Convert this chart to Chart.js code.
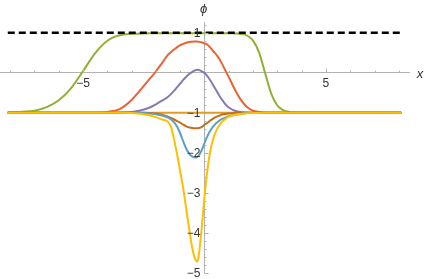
<!DOCTYPE html>
<html>
<head>
<meta charset="utf-8">
<script src="https://cdn.jsdelivr.net/npm/chart.js@4.4.1/dist/chart.umd.min.js"></script>
<style>
  html, body { margin: 0; padding: 0; background: #fff; }
  #chart { display: block; }
</style>
</head>
<body>
<canvas id="chart" width="425" height="279"></canvas>
<script>
// ── data ──
const xs = [-8.1, -7.5, -7, -6.5, -6, -5.5, -5, -4.5, -4, -3.5, -3, -2.75, -2.5, -2.25, -2, -1.75, -1.5, -1.375, -1.25, -1.125,
            -1, -0.875, -0.75, -0.625, -0.5, -0.375, -0.3, -0.25, -0.125, 0, 0.125, 0.25, 0.375, 0.5, 0.625, 0.75, 0.875, 1,
            1.25, 1.5, 1.75, 2, 2.25, 2.5, 2.75, 3, 3.25, 3.5, 4, 5, 6, 7, 8.1];

const green  = [-0.99, -0.975, -0.95, -0.86, -0.69, -0.39, 0.04, 0.49, 0.80, 0.935, 0.97, 0.975, 0.98, 0.985, 0.985, 0.985, 0.985, 0.985, 0.985, 0.985,
                0.985, 0.985, 0.985, 0.985, 0.985, 0.985, 0.985, 0.985, 0.985, 0.985, 0.985, 0.985, 0.985, 0.985, 0.985, 0.985, 0.985, 0.985,
                0.98, 0.97, 0.93, 0.80, 0.50, -0.02, -0.53, -0.82, -0.94, -0.98, -0.998, -1, -1, -1, -1];
const red    = [-1, -1, -1, -1, -1, -1, -1, -1, -0.98, -0.91, -0.68, -0.51, -0.33, -0.15, 0.03, 0.24, 0.45, 0.52, 0.58, 0.64,
                0.69, 0.72, 0.75, 0.77, 0.775, 0.782, 0.781, 0.775, 0.76, 0.73, 0.70, 0.62, 0.53, 0.44, 0.33, 0.19, 0.04, -0.11,
                -0.42, -0.68, -0.86, -0.95, -0.98, -0.995, -1, -1, -1, -1, -1, -1, -1, -1, -1];
const purple = [-1, -1, -1, -1, -1, -1, -1, -1, -1, -0.995, -0.98, -0.96, -0.92, -0.87, -0.79, -0.70, -0.60, -0.53, -0.45, -0.36,
                -0.27, -0.18, -0.10, -0.03, 0.02, 0.065, 0.075, 0.07, 0.04, -0.01, -0.09, -0.20, -0.33, -0.46, -0.59, -0.70, -0.80, -0.87,
                -0.95, -0.985, -0.995, -1, -1, -1, -1, -1, -1, -1, -1, -1, -1, -1, -1];
const brown  = [-1, -1, -1, -1, -1, -1, -1, -1, -1, -1, -1, -1, -1, -1.01, -1.02, -1.05, -1.10, -1.13, -1.17, -1.21,
                -1.25, -1.30, -1.34, -1.37, -1.385, -1.39, -1.39, -1.385, -1.36, -1.30, -1.25, -1.19, -1.14, -1.10, -1.07, -1.04, -1.03, -1.02,
                -1.01, -1, -1, -1, -1, -1, -1, -1, -1, -1, -1, -1, -1, -1, -1];
const blue   = [-1, -1, -1, -1, -1, -1, -1, -1, -1, -1, -1, -1.005, -1.01, -1.02, -1.04, -1.07, -1.12, -1.17, -1.24, -1.35,
                -1.52, -1.72, -1.90, -2.03, -2.10, -2.12, -2.11, -2.08, -1.95, -1.76, -1.58, -1.44, -1.33, -1.25, -1.19, -1.15, -1.12, -1.09,
                -1.05, -1.03, -1.01, -1.005, -1, -1, -1, -1, -1, -1, -1, -1, -1, -1, -1];
const yellow = [-1, -1, -1, -1, -1, -1, -1, -1, -1, -1, -1.01, -1.02, -1.04, -1.07, -1.11, -1.17, -1.23, -1.36, -1.68, -2.05,
                -2.47, -2.90, -3.42, -3.92, -4.40, -4.67, -4.72, -4.62, -3.95, -3.10, -2.40, -1.92, -1.62, -1.43, -1.30, -1.21, -1.15, -1.10,
                -1.05, -1.03, -1.015, -1.01, -1.005, -1, -1, -1, -1, -1, -1, -1, -1, -1, -1];
const orange = xs.map(() => -1);
const dashedX = [-8.1, 8.1];
const dashedY = [1, 1];

const xTickLabels = [-5, 5];
const yTickLabels = [1, -1, -2, -3, -4, -5];

const AXIS = '#b3b3b3';
const LABEL = '#333';
const FONT = '"Liberation Sans", Arial, sans-serif';

const fmt = v => (v < 0 ? '\u2212' + Math.abs(v) : String(v));
const pts = ys => xs.map((x, i) => ({ x, y: ys[i] }));

function curve(data, color, order) {
    return { data: pts(data), borderColor: color, borderWidth: 2, pointRadius: 0,
             cubicInterpolationMode: 'monotone', fill: false, order };
}

// ── ticks, labels and axis names on top, Mathematica style ──
const axisDecor = {
    id: 'axisDecor',
    afterDatasetsDraw(chart) {
        const { ctx } = chart;
        const sx = chart.scales.x, sy = chart.scales.y;
        const x0 = sx.getPixelForValue(0), y0 = sy.getPixelForValue(0);
        ctx.save();
        ctx.strokeStyle = AXIS;
        ctx.lineWidth = 1;
        ctx.beginPath();
        for (let v = -8; v <= 8; v++) {
            if (v === 0) continue;
            const len = v % 5 === 0 ? 4 : 2;
            const px = Math.round(sx.getPixelForValue(v)) + 0.5;
            ctx.moveTo(px, y0);
            ctx.lineTo(px, y0 - len);
        }
        for (let k = -25; k <= 6; k++) {
            if (k === 0) continue;
            const len = k % 5 === 0 ? 4 : 2;
            const py = Math.round(sy.getPixelForValue(k / 5)) + 0.5;
            ctx.moveTo(x0, py);
            ctx.lineTo(x0 + len, py);
        }
        ctx.stroke();

        ctx.fillStyle = LABEL;
        ctx.font = '12px ' + FONT;
        ctx.textBaseline = 'middle';
        ctx.textAlign = 'right';
        yTickLabels.forEach(v => ctx.fillText(fmt(v), x0 - 4, sy.getPixelForValue(v) + 1));
        ctx.textAlign = 'center';
        xTickLabels.forEach(v => ctx.fillText(fmt(v), sx.getPixelForValue(v), y0 + 11));

        ctx.font = 'italic 13px ' + FONT;
        ctx.fillText('\u03d5', x0 - 1, 9);
        ctx.fillText('x', sx.right + 11, y0 + 2);
        ctx.restore();
    }
};

new Chart(document.getElementById('chart'), {
    type: 'line',
    data: {
        datasets: [
            { data: dashedX.map((x, i) => ({ x, y: dashedY[i] })), borderColor: '#000', borderWidth: 2.5,
              borderDash: [7, 4], pointRadius: 0, fill: false, order: 0 },
            curve(yellow, '#FFBF00', 1),
            curve(blue,   '#5D9EC7', 2),
            curve(brown,  '#C56E1A', 3),
            curve(purple, '#8778B3', 4),
            curve(red,    '#EB6235', 5),
            curve(green,  '#8FB032', 6),
            curve(orange, '#E19C24', 7)
        ]
    },
    options: {
        responsive: false,
        animation: false,
        devicePixelRatio: 1,
        layout: { padding: { top: 22.7, bottom: 6.3, left: 0, right: 16 } },
        plugins: { legend: { display: false }, tooltip: { enabled: false } },
        scales: {
            x: {
                type: 'linear', min: -8.42, max: 8.42, position: { y: 0 },
                grid: { display: false, drawTicks: false },
                border: { color: AXIS, width: 1 },
                ticks: { display: false }
            },
            y: {
                type: 'linear', min: -5, max: 1.25, position: { x: 0 },
                grid: { display: false, drawTicks: false },
                border: { color: AXIS, width: 1 },
                ticks: { display: false }
            }
        }
    },
    plugins: [axisDecor]
});
</script>
</body>
</html>
